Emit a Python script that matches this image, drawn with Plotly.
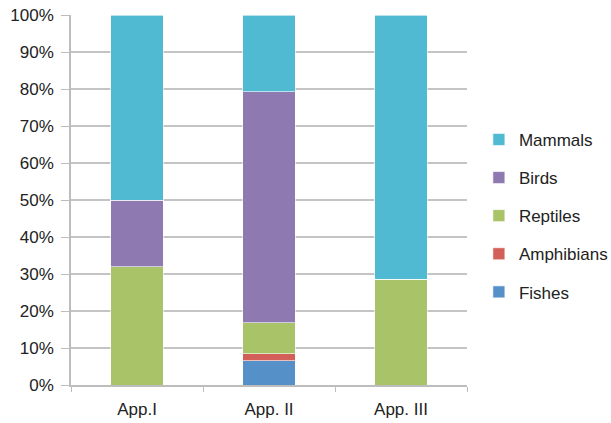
import plotly.graph_objects as go

# CITES appendices: share of listed species by animal class (%)
categories = ["App.I", "App. II", "App. III"]
fishes = [0.0, 6.5, 0.0]
amphibians = [0.0, 2.0, 0.0]
reptiles = [32.0, 8.3, 28.6]
birds = [18.0, 62.4, 0.0]
mammals = [50.0, 20.8, 71.4]

series = [
    ("Fishes", fishes, "#5590C9"),
    ("Amphibians", amphibians, "#D35F59"),
    ("Reptiles", reptiles, "#A9C468"),
    ("Birds", birds, "#8F79B1"),
    ("Mammals", mammals, "#4FBAD1"),
]

fig = go.Figure()
n = len(series)
for i, (name, vals, color) in enumerate(series):
    fig.add_trace(go.Bar(
        x=categories, y=vals, name=name, legendgroup=name,
        legendrank=n - i,
        marker=dict(color=color, line=dict(color="rgba(255,255,255,0.6)", width=1)),
        width=0.4,
    ))

font = dict(family="Liberation Sans, Arial, sans-serif", size=17, color="#222222")

fig.update_layout(
    barmode="stack",
    width=611, height=423,
    margin=dict(l=71, r=144, t=15, b=38, autoexpand=False),
    paper_bgcolor="white", plot_bgcolor="white",
    font=font,
    showlegend=True,
    legend=dict(
        traceorder="grouped", tracegroupgap=13,
        x=1.03, xanchor="left", y=0.457, yanchor="middle",
        font=font, itemwidth=30,
    ),
    xaxis=dict(
        showline=True, linecolor="#BDBDBD", linewidth=1.5,
        ticks="outside", tickson="boundaries", ticklen=5, tickcolor="#BDBDBD",
        showgrid=False, automargin=False, ticklabelstandoff=8,
    ),
    yaxis=dict(
        range=[0, 100], dtick=10, ticksuffix="%",
        showline=True, linecolor="#BDBDBD", linewidth=1.5,
        ticks="outside", ticklen=8, tickcolor="#BDBDBD",
        showgrid=True, gridcolor="#C4C4C4", gridwidth=1.5,
        zeroline=False, automargin=False, ticklabelstandoff=4,
    ),
)

fig.write_html("out.html")
